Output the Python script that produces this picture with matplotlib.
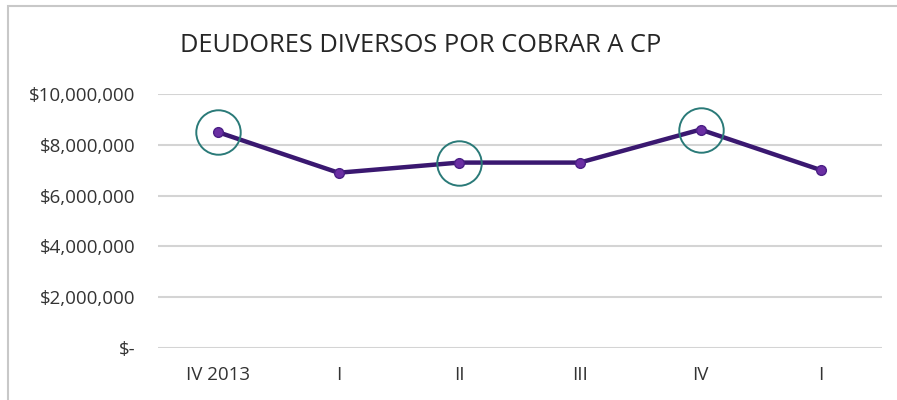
import matplotlib
matplotlib.use('Agg')
import matplotlib.pyplot as plt
from matplotlib.patches import Rectangle
from matplotlib.ticker import FuncFormatter

# data
quarters = ['IV 2013', 'I', 'II', 'III', 'IV', 'I']
amounts = [8500000, 6900000, 7300000, 7300000, 8600000, 7000000]
highlighted = [0, 2, 4]  # points marked with a circle

plt.rcParams['font.family'] = ['Open Sans', 'DejaVu Sans']

fig = plt.figure(figsize=(8.97, 4.0), dpi=100)
ax = fig.add_axes([157.5 / 897, 52 / 400, 724 / 897, 254 / 400])

# outer chart frame (runs off the right and bottom edges)
top = 1 - 6 / 400
fig.patches.append(Rectangle((8 / 897, -0.05), 1.0, top + 0.05,
                             transform=fig.transFigure, fill=False,
                             edgecolor='#c8c8c8', linewidth=1.5))

x = list(range(len(quarters)))
ax.plot(x, amounts, color='#3a1870', linewidth=3.2, zorder=3,
        marker='o', markersize=7, markerfacecolor='#6b2fa3',
        markeredgecolor='#4a1f85', markeredgewidth=1)

hx = [x[i] for i in highlighted]
hy = [amounts[i] for i in highlighted]
ax.plot(hx, hy, linestyle='none', marker='o', markersize=32,
        markerfacecolor='none', markeredgecolor='#2a7a78',
        markeredgewidth=1.4, zorder=4)

ax.set_xlim(-0.5, len(quarters) - 0.5)
ax.set_ylim(0, 10000000)
ax.set_yticks(range(0, 10000001, 2000000))


def money(v, pos):
    if v == 0:
        return '$-'
    return '${:,.0f}'.format(v)


ax.yaxis.set_major_formatter(FuncFormatter(money))
ax.set_xticks(x)
ax.set_xticklabels(quarters)

ax.grid(axis='y', color='#d4d4d4', linewidth=1.5)
ax.set_axisbelow(True)
for s in ax.spines.values():
    s.set_visible(False)
ax.tick_params(axis='both', length=0, labelsize=13.5, colors='#333333')
ax.tick_params(axis='y', pad=16)
ax.tick_params(axis='x', pad=13)

fig.text(421 / 897, 1 - 45 / 400, 'DEUDORES DIVERSOS POR COBRAR A CP',
         ha='center', va='center', fontsize=18.3, color='#262626')

fig.savefig('out.png', dpi=100)
